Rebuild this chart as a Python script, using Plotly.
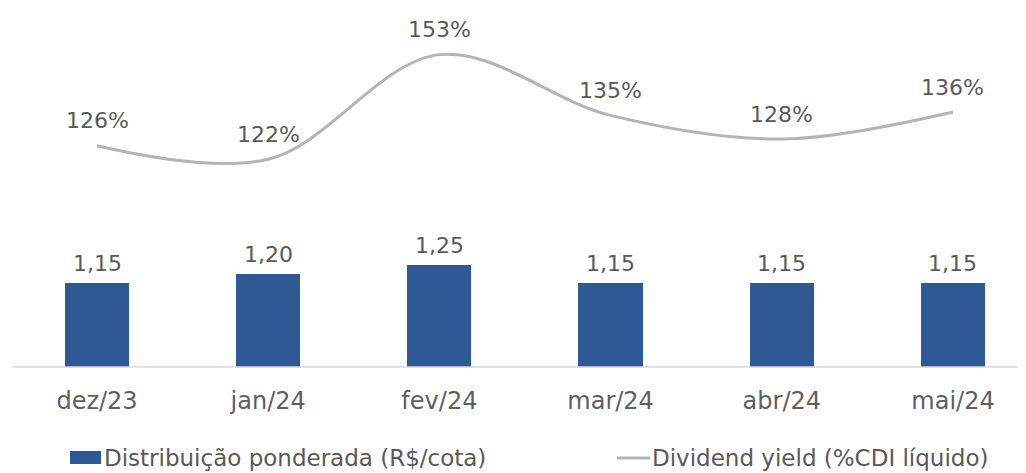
import plotly.graph_objects as go

categories = ["dez/23", "jan/24", "fev/24", "mar/24", "abr/24", "mai/24"]
distribuicao = [1.15, 1.20, 1.25, 1.15, 1.15, 1.15]
dividend_yield = [126, 122, 153, 135, 128, 136]
bar_labels = ["1,15", "1,20", "1,25", "1,15", "1,15", "1,15"]
yield_labels = ["126%", "122%", "153%", "135%", "128%", "136%"]
legend_names = ["Distribuição ponderada (R$/cota)", "Dividend yield (%CDI líquido)"]

BAR_COLOR = "#2F5994"
LINE_COLOR = "#B4B4B6"
TEXT_COLOR = "#595959"
FONT = "DejaVu Sans"
FS = 22

# page body has an 8px margin: figure covers window pixels 8..1026 / 8..473
OFF = 8
W, H = 1026 - OFF, 473 - OFF
ML, MR, MT = 12 - OFF, 0, 0
BASE = 367 - OFF
MB = H - BASE
PW, PH = W - ML - MR, H - MT - MB

fig = go.Figure()
fig.add_trace(go.Bar(
    x=categories, y=distribuicao, name=legend_names[0],
    marker=dict(color=BAR_COLOR, line=dict(width=0)), width=0.375,
    yaxis="y", hoverinfo="skip", showlegend=False,
))
fig.add_trace(go.Scatter(
    x=categories, y=dividend_yield, name=legend_names[1],
    mode="lines", line=dict(color=LINE_COLOR, width=3, shape="spline", smoothing=1.0),
    yaxis="y2", hoverinfo="skip", showlegend=False,
))

annotations = []
for c, v, t in zip(categories, distribuicao, bar_labels):
    annotations.append(dict(x=c, y=v, xref="x", yref="y", text=t, showarrow=False,
                            yanchor="middle", yshift=20,
                            font=dict(family=FONT, size=FS, color=TEXT_COLOR)))
for c, v, t in zip(categories, dividend_yield, yield_labels):
    annotations.append(dict(x=c, y=v, xref="x", yref="y2", text=t, showarrow=False,
                            yanchor="middle", yshift=25,
                            font=dict(family=FONT, size=FS, color=TEXT_COLOR)))

# manual legend (window pixel positions converted to paper coords)
def px(x):
    return (x - OFF - ML) / PW
def py(y):
    return 1 - (y - OFF - MT) / PH

leg_y = 458
annotations.append(dict(x=px(102), y=py(leg_y), xref="paper", yref="paper",
                        text=legend_names[0], showarrow=False, xanchor="left",
                        yanchor="middle", font=dict(family=FONT, size=23, color=TEXT_COLOR)))
annotations.append(dict(x=px(650), y=py(leg_y), xref="paper", yref="paper",
                        text=legend_names[1], showarrow=False, xanchor="left",
                        yanchor="middle", font=dict(family=FONT, size=23, color=TEXT_COLOR)))

shapes = [
    dict(type="line", xref="paper", yref="paper", x0=0, x1=1, y0=0, y1=0,
         line=dict(color="#D9D9D9", width=1.5)),
    dict(type="rect", xref="paper", yref="paper", x0=px(70), x1=px(101),
         y0=py(leg_y + 6), y1=py(leg_y - 7), line=dict(width=0), fillcolor=BAR_COLOR),
    dict(type="line", xref="paper", yref="paper", x0=px(617), x1=px(650),
         y0=py(leg_y), y1=py(leg_y), line=dict(color=LINE_COLOR, width=3)),
]

y1_scale = 180.0      # px per unit (bars)
y2_scale = 3.375      # px per unit (line)
y1_min = 0.685
y2_min = 128 - (367 - 139) / y2_scale

fig.update_layout(
    width=W, height=H,
    margin=dict(l=ML, r=MR, t=MT, b=MB, autoexpand=False),
    paper_bgcolor="white", plot_bgcolor="white",
    font=dict(family=FONT, size=FS, color=TEXT_COLOR),
    xaxis=dict(range=[-0.4965, 5.4265], showgrid=False, zeroline=False, automargin=False,
               showline=False, ticks="", ticklabelstandoff=17,
               tickfont=dict(family=FONT, size=24, color="#5F5F5F")),
    yaxis=dict(range=[y1_min, y1_min + PH / y1_scale], visible=False, showgrid=False,
               zeroline=False, automargin=False),
    yaxis2=dict(range=[y2_min, y2_min + PH / y2_scale], overlaying="y", visible=False,
                showgrid=False, zeroline=False, automargin=False),
    showlegend=False,
    annotations=annotations,
    shapes=shapes,
    bargap=0,
)

fig.write_html("out.html")
